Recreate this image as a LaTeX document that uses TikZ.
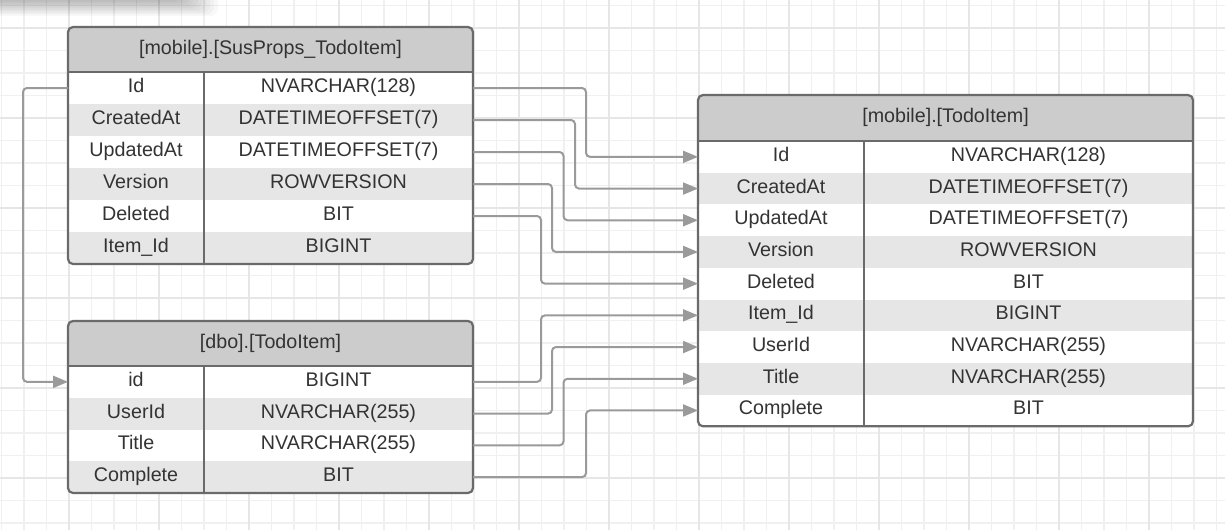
\documentclass[tikz,border=0pt]{standalone}
\usepackage{fontspec}
\setmainfont{Liberation Sans}
\usetikzlibrary{arrows.meta}
\definecolor{bdcol}{HTML}{6A6A6A}
\definecolor{cncol}{HTML}{9A9A9A}
\definecolor{hdcol}{HTML}{CCCCCC}
\definecolor{rwcol}{HTML}{E6E6E6}
\definecolor{txcol}{HTML}{333333}
\definecolor{grmin}{HTML}{F0F0F0}
\definecolor{grmaj}{HTML}{E6E6E6}
\begin{document}
\begin{tikzpicture}[x=1pt,y=-1pt,
  txt/.style={text=txcol, font=\fontsize{19.7}{22}\selectfont, inner sep=0pt, text height=14pt, text depth=5pt, anchor=center},
  rowbox/.style={inner sep=0pt, outer sep=0pt, draw=none},
  border/.style={draw=bdcol, line width=2.2pt},
  conn/.style={draw=cncol, line width=2pt, rounded corners=4pt, -{Triangle[length=15pt,width=12pt]}}]
\useasboundingbox (0,0) rectangle (1225,530);
\fill[white] (0,0) rectangle (1225,530);
% grid
\foreach \x in {1.5,24,...,1225} \draw[grmin, line width=1.4pt] (\x,0) -- (\x,530);
\foreach \y in {5.5,28,...,530} \draw[grmin, line width=1.4pt] (0,\y) -- (1225,\y);
\foreach \x in {69,159,...,1225} \draw[grmaj, line width=2.4pt] (\x,0) -- (\x,530);
\foreach \y in {28,118,...,530} \draw[grmaj, line width=2.4pt] (0,\y) -- (1225,\y);
% top-left shadow
\foreach \i in {1,...,10} \fill[black, opacity=0.028, rounded corners=8pt] (-20,-20) rectangle (178+4*\i, 1.6*\i);

% ---------- Table A ----------
\def\xa{68}\def\xb{473}\def\xd{204}\def\tt{27}\def\hb{72}\def\rh{32}\def\nr{6}
\begin{scope}
\clip[rounded corners=5pt] (\xa,\tt) rectangle (\xb,{\hb+\nr*\rh});
\fill[hdcol] (\xa,\tt) rectangle (\xb,\hb);
\node[txt] (ah) at ({(\xa+\xb)/2},{(\tt+\hb)/2}) {[mobile].[SusProps\_TodoItem]};
\foreach \nm/\tp/\fc [count=\i] in {Id/NVARCHAR(128)/white, CreatedAt/DATETIMEOFFSET(7)/rwcol, UpdatedAt/DATETIMEOFFSET(7)/white, Version/ROWVERSION/rwcol, Deleted/BIT/white, Item\_Id/BIGINT/rwcol}{
  \node[rowbox, fill=\fc, minimum width={(\xb-\xa)*1pt}, minimum height={\rh*1pt}] (a\i) at ({(\xa+\xb)/2},{\hb+(\i-0.5)*\rh}) {};
  \node[txt] (a\i n) at ({(\xa+\xd)/2},{\hb+(\i-0.5)*\rh}) {\nm};
  \node[txt] (a\i t) at ({(\xd+\xb)/2},{\hb+(\i-0.5)*\rh}) {\tp};
}
\end{scope}
\draw[border, rounded corners=5pt] (\xa,\tt) rectangle (\xb,{\hb+\nr*\rh});
\draw[border] (\xa,\hb) -- (\xb,\hb);
\draw[border] (\xd,\hb) -- (\xd,{\hb+\nr*\rh});

% ---------- Table B ----------
\def\xa{68}\def\xb{473}\def\xd{204}\def\tt{321}\def\hb{366}\def\rh{31.75}\def\nr{4}
\begin{scope}
\clip[rounded corners=5pt] (\xa,\tt) rectangle (\xb,{\hb+\nr*\rh});
\fill[hdcol] (\xa,\tt) rectangle (\xb,\hb);
\node[txt] (bh) at ({(\xa+\xb)/2},{(\tt+\hb)/2}) {[dbo].[TodoItem]};
\foreach \nm/\tp/\fc [count=\i] in {id/BIGINT/white, UserId/NVARCHAR(255)/rwcol, Title/NVARCHAR(255)/white, Complete/BIT/rwcol}{
  \node[rowbox, fill=\fc, minimum width={(\xb-\xa)*1pt}, minimum height={\rh*1pt}] (b\i) at ({(\xa+\xb)/2},{\hb+(\i-0.5)*\rh}) {};
  \node[txt] (b\i n) at ({(\xa+\xd)/2},{\hb+(\i-0.5)*\rh}) {\nm};
  \node[txt] (b\i t) at ({(\xd+\xb)/2},{\hb+(\i-0.5)*\rh}) {\tp};
}
\end{scope}
\draw[border, rounded corners=5pt] (\xa,\tt) rectangle (\xb,{\hb+\nr*\rh});
\draw[border] (\xa,\hb) -- (\xb,\hb);
\draw[border] (\xd,\hb) -- (\xd,{\hb+\nr*\rh});

% ---------- Table C ----------
\def\xa{698}\def\xb{1193}\def\xd{864}\def\tt{95}\def\hb{141}\def\rh{31.7}\def\nr{9}
\begin{scope}
\clip[rounded corners=5pt] (\xa,\tt) rectangle (\xb,{\hb+\nr*\rh});
\fill[hdcol] (\xa,\tt) rectangle (\xb,\hb);
\node[txt] (ch) at ({(\xa+\xb)/2},{(\tt+\hb)/2}) {[mobile].[TodoItem]};
\foreach \nm/\tp/\fc [count=\i] in {Id/NVARCHAR(128)/white, CreatedAt/DATETIMEOFFSET(7)/rwcol, UpdatedAt/DATETIMEOFFSET(7)/white, Version/ROWVERSION/rwcol, Deleted/BIT/white, Item\_Id/BIGINT/rwcol, UserId/NVARCHAR(255)/white, Title/NVARCHAR(255)/rwcol, Complete/BIT/white}{
  \node[rowbox, fill=\fc, minimum width={(\xb-\xa)*1pt}, minimum height={\rh*1pt}] (c\i) at ({(\xa+\xb)/2},{\hb+(\i-0.5)*\rh}) {};
  \node[txt] (c\i n) at ({(\xa+\xd)/2},{\hb+(\i-0.5)*\rh}) {\nm};
  \node[txt] (c\i t) at ({(\xd+\xb)/2},{\hb+(\i-0.5)*\rh}) {\tp};
}
\end{scope}
\draw[border, rounded corners=5pt] (\xa,\tt) rectangle (\xb,{\hb+\nr*\rh});
\draw[border] (\xa,\hb) -- (\xb,\hb);
\draw[border] (\xd,\hb) -- (\xd,{\hb+\nr*\rh});

% ---------- connectors ----------
\coordinate (l0) at (23,0);
\coordinate (l1) at (541,0);
\coordinate (l2) at (552,0);
\coordinate (l3) at (563.5,0);
\coordinate (l4) at (575,0);
\coordinate (l5) at (586,0);
\draw[conn] (a1.east) -- (a1.east -| l5) |- (c1.west);
\draw[conn] (a2.east) -- (a2.east -| l4) |- (c2.west);
\draw[conn] (a3.east) -- (a3.east -| l3) |- (c3.west);
\draw[conn] (a4.east) -- (a4.east -| l2) |- (c4.west);
\draw[conn] (a5.east) -- (a5.east -| l1) |- (c5.west);
\draw[conn] (b1.east) -- (b1.east -| l1) |- (c6.west);
\draw[conn] (b2.east) -- (b2.east -| l2) |- (c7.west);
\draw[conn] (b3.east) -- (b3.east -| l3) |- (c8.west);
\draw[conn] (b4.east) -- (b4.east -| l5) |- (c9.west);
\draw[conn] (a1.west) -- (a1.west -| l0) |- (b1.west);
\end{tikzpicture}
\end{document}
